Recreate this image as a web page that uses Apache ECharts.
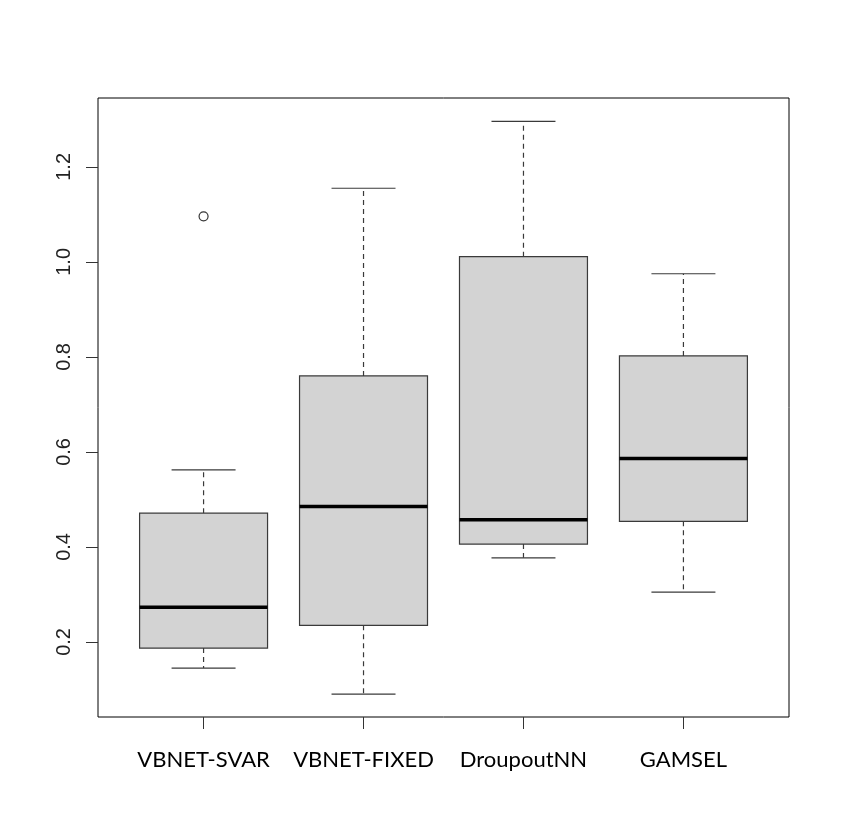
<!DOCTYPE html>
<html>
<head>
<meta charset="utf-8">
<script src="https://cdn.jsdelivr.net/npm/echarts@6/dist/echarts.min.js"></script>
<style>
  html, body { margin: 0; padding: 0; background: #fff; }
  #chart { width: 856px; height: 840px; }
</style>
</head>
<body>
<div id="chart"></div>
<script>
// boxplot statistics
const categories = ['VBNET-SVAR', 'VBNET-FIXED', 'DroupoutNN', 'GAMSEL'];
const lowWhisker = [0.145, 0.090, 0.377, 0.305];
const lowerQuart = [0.187, 0.235, 0.406, 0.454];
const medians = [0.273, 0.485, 0.457, 0.586];
const upperQuart = [0.471, 0.760, 1.011, 0.802];
const highWhisker = [0.562, 1.155, 1.296, 0.975];
const outliers = [[1, 1.096]];
const yTicks = [0.2, 0.4, 0.6, 0.8, 1.0, 1.2];
const xTicks = [1, 2, 3, 4];

const boxData = categories.map((c, i) =>
  [i + 1, lowWhisker[i], lowerQuart[i], medians[i], upperQuart[i], highWhisker[i]]);

const lineCol = '#3a3a3a';

function renderBox(params, api) {
  const x = api.value(0);
  const lo = api.value(1), q1 = api.value(2), med = api.value(3),
        q3 = api.value(4), hi = api.value(5);
  const tl = api.coord([x - 0.4, q3]);
  const br = api.coord([x + 0.4, q1]);
  const seg = (x1, y1, x2, y2, style) => {
    const a = api.coord([x1, y1]), b = api.coord([x2, y2]);
    return {
      type: 'line',
      shape: { x1: a[0], y1: a[1], x2: b[0], y2: b[1] },
      style: Object.assign({ stroke: lineCol, lineWidth: 1.2 }, style)
    };
  };
  return {
    type: 'group',
    children: [
      seg(x, q3, x, hi, { lineDash: [5, 4] }),
      seg(x, q1, x, lo, { lineDash: [5, 4] }),
      seg(x - 0.2, hi, x + 0.2, hi),
      seg(x - 0.2, lo, x + 0.2, lo),
      {
        type: 'rect',
        shape: { x: tl[0], y: tl[1], width: br[0] - tl[0], height: br[1] - tl[1] },
        style: { fill: '#d3d3d3', stroke: lineCol, lineWidth: 1.2 }
      },
      seg(x - 0.4, med, x + 0.4, med, { stroke: '#000', lineWidth: 3.5 })
    ]
  };
}

const chart = echarts.init(document.getElementById('chart'));
chart.setOption({
  animation: false,
  backgroundColor: '#fff',
  grid: {
    left: 98, top: 98, right: 67, bottom: 123,
    show: true, borderColor: '#000', borderWidth: 1, backgroundColor: 'transparent'
  },
  xAxis: {
    type: 'value',
    min: 0.34, max: 4.66,
    splitLine: { show: false },
    axisLine: { show: false },
    axisTick: { show: true, customValues: xTicks, length: 12, lineStyle: { color: '#333' } },
    axisLabel: {
      customValues: xTicks,
      formatter: v => categories[Math.round(v) - 1],
      fontFamily: 'Lato, "Open Sans", sans-serif',
      fontSize: 22,
      color: '#000',
      margin: 32
    }
  },
  yAxis: {
    type: 'value',
    min: 0.042, max: 1.345,
    splitLine: { show: false },
    axisLine: { show: false },
    axisTick: { show: true, customValues: yTicks, length: 12, lineStyle: { color: '#333' } },
    axisLabel: {
      customValues: yTicks,
      formatter: v => v.toFixed(1),
      rotate: 90,
      fontFamily: '"Liberation Sans", Arial, sans-serif',
      fontSize: 20,
      color: '#222',
      margin: 24
    }
  },
  series: [
    {
      type: 'custom',
      renderItem: renderBox,
      encode: { x: 0, y: [1, 2, 3, 4, 5] },
      data: boxData
    },
    {
      type: 'scatter',
      symbol: 'circle',
      symbolSize: 9,
      itemStyle: { color: '#fff', borderColor: '#000', borderWidth: 1.2 },
      data: outliers
    }
  ]
});
</script>
</body>
</html>
